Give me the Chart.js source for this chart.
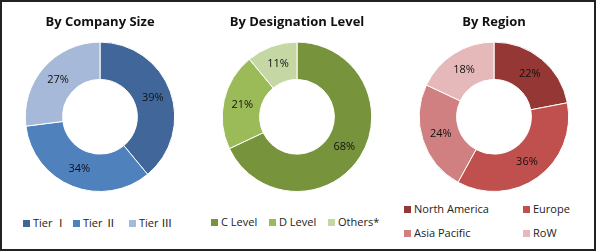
<!DOCTYPE html>
<html>
<head>
<meta charset="utf-8">
<script src="https://cdn.jsdelivr.net/npm/chart.js"></script>
<style>
body { margin: 0; background: #fff; }
#frame { position: absolute; left: 0; top: 0; width: 596px; height: 251px; box-sizing: border-box; border: 2px solid #222; }
canvas { position: absolute; top: 0; }
.legend { position: absolute; font: 11px "Open Sans", "Noto Sans CJK JP", sans-serif; color: #222; }
.legend .item { position: absolute; white-space: nowrap; line-height: 14px; }
.legend .box { display: inline-block; width: 7px; height: 7px; margin-right: 3px; vertical-align: 0px; }
</style>
</head>
<body>
<div id="frame"></div>
<canvas id="c1" width="200" height="200" style="left:0px"></canvas>
<canvas id="c2" width="200" height="200" style="left:197px"></canvas>
<canvas id="c3" width="200" height="200" style="left:394px"></canvas>
<div class="legend" id="l1"></div>
<div class="legend" id="l2"></div>
<div class="legend" id="l3"></div>
<script>
// chart data
const sizeLabels = ["Tier Ⅰ", "Tier Ⅱ", "Tier Ⅲ"];
const sizeValues = [39, 34, 27];
const sizeColors = ["#41679a", "#4f81bd", "#a7b9d9"];

const levelLabels = ["C Level", "D Level", "Others*"];
const levelValues = [68, 21, 11];
const levelColors = ["#77933c", "#9bbb59", "#c5d8a4"];

const regionLabels = ["North America", "Europe", "Asia Pacific", "RoW"];
const regionValues = [22, 36, 24, 18];
const regionColors = ["#953735", "#c0504d", "#d08080", "#e5b9b9"];

// draws the % text in the middle of each ring slice
const pctLabels = {
    id: "pctLabels",
    afterDatasetsDraw(chart) {
        const ctx = chart.ctx;
        const meta = chart.getDatasetMeta(0);
        const vals = chart.data.datasets[0].data;
        ctx.save();
        ctx.font = '11px "Open Sans"';
        ctx.fillStyle = "#111";
        ctx.textAlign = "center";
        ctx.textBaseline = "middle";
        meta.data.forEach((arc, i) => {
            const p = arc.tooltipPosition();
            ctx.fillText(vals[i] + "%", p.x, p.y);
        });
        ctx.restore();
    }
};

function makeDonut(id, title, labels, values, colors) {
    new Chart(document.getElementById(id), {
        type: "doughnut",
        data: {
            labels: labels,
            datasets: [{
                data: values,
                backgroundColor: colors,
                borderColor: "#fff",
                borderWidth: 1
            }]
        },
        options: {
            responsive: false,
            animation: false,
            cutout: "50%",
            layout: { padding: { bottom: 8 } },
            plugins: {
                legend: { display: false },
                tooltip: { enabled: false },
                title: {
                    display: true,
                    text: title,
                    color: "#111",
                    font: { family: "Open Sans", size: 13, weight: "bold", lineHeight: 1.2 },
                    padding: { top: 14, bottom: 12 }
                }
            }
        },
        plugins: [pctLabels]
    });
}

makeDonut("c1", "By Company Size", sizeLabels, sizeValues, sizeColors);
makeDonut("c2", "By Designation Level", levelLabels, levelValues, levelColors);
makeDonut("c3", "By Region", regionLabels, regionValues, regionColors);

// legends (HTML, built from the same arrays)
function makeLegend(id, labels, colors, spots) {
    const el = document.getElementById(id);
    labels.forEach((lab, i) => {
        const it = document.createElement("div");
        it.className = "item";
        it.style.left = spots[i][0] + "px";
        it.style.top = spots[i][1] + "px";
        it.innerHTML = '<span class="box" style="background:' + colors[i] + '"></span>' + lab;
        el.appendChild(it);
    });
}
makeLegend("l1", sizeLabels, sizeColors, [[23, 216], [73, 216], [129, 216]]);
makeLegend("l2", levelLabels, levelColors, [[211, 215], [269, 215], [328, 215]]);
makeLegend("l3", regionLabels, regionColors, [[404, 202], [523, 202], [404, 226], [523, 226]]);
</script>
</body>
</html>
